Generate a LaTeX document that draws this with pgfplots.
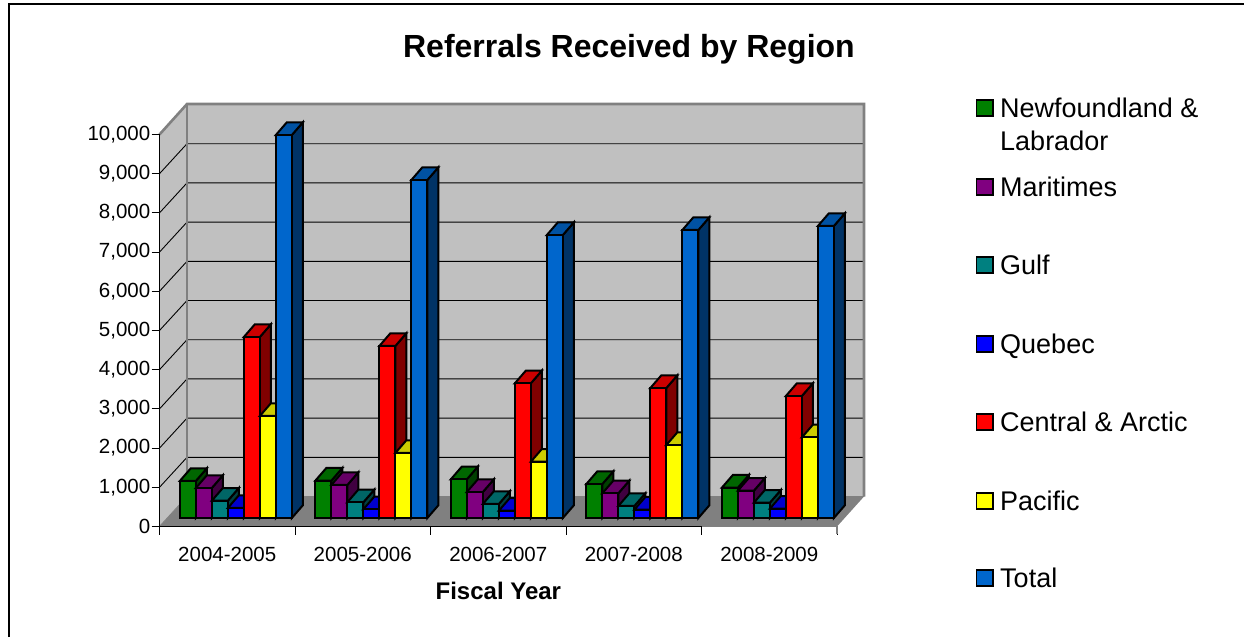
\documentclass[border=0pt]{standalone}
\usepackage{pgfplots}
\usepackage{pgfplotstable}
\usepackage{fontspec}
\setmainfont{Liberation Sans}
\pgfplotsset{compat=1.18}

% Referrals per fiscal year, one column per region
\pgfplotstableread{
year      nfl mar gulf que car  pac  tot
2004-2005 944 765 441  255 4617 2602 9770
2005-2006 952 842 400  222 4388 1658 8622
2006-2007 987 663 357  186 3436 1436 7219
2007-2008 867 630 306  212 3316 1862 7347
2008-2009 773 696 390  237 3112 2056 7449
}\referrals

\definecolor{cNfl}{HTML}{008000}
\definecolor{cMar}{HTML}{800080}
\definecolor{cGulf}{HTML}{008080}
\definecolor{cQue}{HTML}{0000FF}
\definecolor{cCar}{HTML}{FF0000}
\definecolor{cPac}{HTML}{FFFF00}
\definecolor{cTot}{HTML}{0066CC}
\definecolor{wall}{HTML}{C0C0C0}
\definecolor{floorgray}{HTML}{808080}

\pgfplotsset{barline/.style={draw=black,line width=2pt,line join=miter}}

% Bar geometry in axis units (one category = 1 on x, 1000 referrals = 1000 on y)
\def\barstart{0.150}
\def\barw{0.1181}
\def\depthx{0.0812}
\def\depthy{324}
\def\basey{217}

% #1 category index, #2 slot in the group, #3 value, #4 colour
\newcommand\threedbar[4]{%
  \pgfmathsetmacro\xa{#1+\barstart+#2*\barw}%
  \pgfmathsetmacro\xb{\xa+\barw}%
  \pgfmathsetmacro\xc{\xa+\depthx}%
  \pgfmathsetmacro\xd{\xb+\depthx}%
  \pgfmathsetmacro\ya{\basey}%
  \pgfmathsetmacro\yb{\basey+#3}%
  \pgfmathsetmacro\yc{\basey+\depthy}%
  \pgfmathsetmacro\yd{\yb+\depthy}%
  \edef\drawbar{%
    \noexpand\addplot[forget plot,barline,fill=#4!50!black] coordinates
      {(\xb,\ya) (\xd,\yc) (\xd,\yd) (\xb,\yb)} --cycle;
    \noexpand\addplot[forget plot,barline,fill=#4!80!black] coordinates
      {(\xa,\yb) (\xb,\yb) (\xd,\yd) (\xc,\yd)} --cycle;
    \noexpand\addplot[forget plot,barline,fill=#4] coordinates
      {(\xa,\ya) (\xb,\ya) (\xb,\yb) (\xa,\yb)} --cycle;
  }%
  \drawbar
}

\newcommand\legendrow[3]{%
  \draw[black,line width=1.6pt,fill=#2] (976.5,637-#1-8) rectangle (993,637-#1+8);
  \node[anchor=base west,inner sep=0pt,font=\fontsize{27}{32}\selectfont] at (1000,637-#1-10) {#3};
}

\begin{document}
\begin{tikzpicture}
\path[use as bounding box] (0,0) rectangle (1244pt,637pt);
\draw[black,line width=1.8pt] (9pt,0pt) -- (9pt,633pt) -- (1244pt,633pt);

\begin{axis}[
  at={(159.5pt,110.5pt)}, anchor=south west,
  scale only axis, width=704.5pt, height=422.5pt,
  xmin=0, xmax=5.199, ymin=0, ymax=10778,
  axis x line*=bottom, axis y line*=left,
  axis line style={draw=none,-},
  clip=false,
  tick align=outside,
  ytick={0,1000,...,10000},
  xtick={0.5,1.5,2.5,3.5,4.5},
  xticklabels={2004-2005,2005-2006,2006-2007,2007-2008,2008-2009},
  minor xtick={0,1,2,3,4,5},
  major x tick style={draw=none},
  minor x tick style={black,line width=0.9pt},
  y tick style={black,line width=0.9pt},
  major tick length=8pt, minor tick length=8pt,
  tick label style={font=\fontsize{20.5}{24}\selectfont},
  /pgf/number format/assume math mode=true,
  /pgf/number format/1000 sep={,},
  scaled y ticks=false,
  yticklabel style={inner sep=1pt},
  xticklabel style={inner sep=0pt,yshift=-12pt},
  title={Referrals Received by Region},
  title style={at={(axis description cs:0.6664,1.116)},anchor=center,
    font=\fontsize{32}{38}\bfseries\selectfont},
  xlabel={Fiscal Year},
  xlabel style={at={(axis description cs:0.481,-0.1527)},anchor=center,
    font=\fontsize{24}{28}\bfseries\selectfont},
]
% floor and walls of the chart box
\addplot[forget plot,draw=none,fill=floorgray] coordinates {(0,0) (5,0) (5.199,765) (0.203,765) (0,0)};
\addplot[forget plot,draw=none,fill=wall] coordinates {(0,0) (0.203,765) (0.203,10778) (0,10000) (0,0)};
\addplot[forget plot,draw=none,fill=wall] coordinates {(0.203,765) (5.199,765) (5.199,10778) (0.203,10778) (0.203,765)};
% gridlines running along the side wall and the back wall
\pgfplotsinvokeforeach{1000,2000,...,9000}{
  \pgfmathsetmacro\gy{#1+765}
  \edef\gridpath{\noexpand\addplot[forget plot,black,line width=0.9pt] coordinates {(0,#1) (0.203,\gy) (5.199,\gy)};}
  \gridpath
}
\addplot[forget plot,floorgray,line width=0.9pt] coordinates {(0,0) (0.203,765) (5.199,765)};
\addplot[forget plot,floorgray,line width=2.6pt] coordinates {(0,10000) (0.203,10778) (5.199,10778) (5.199,765)};
\addplot[forget plot,floorgray,line width=2.6pt] coordinates {(0.203,765) (0.203,10778)};
\addplot[forget plot,black,line width=1.1pt] coordinates {(0,0) (0,10000)};
\addplot[forget plot,black,line width=1.1pt] coordinates {(0,0) (4,0)};
\addplot[forget plot,floorgray,line width=1.1pt] coordinates {(4,0) (5,0) (5,-204)};

% the bars, left to right so each front face hides its neighbour's side
\foreach \row in {0,...,4}{
  \foreach \col/\slot/\colr in {nfl/0/cNfl,mar/1/cMar,gulf/2/cGulf,que/3/cQue,car/4/cCar,pac/5/cPac,tot/6/cTot}{
    \pgfplotstablegetelem{\row}{\col}\of\referrals
    \edef\val{\pgfplotsretval}
    \threedbar{\row}{\slot}{\val}{\colr}
  }
}
\end{axis}

% legend
\begin{scope}[x=1pt,y=1pt]
\legendrow{108}{cNfl}{Newfoundland \&}
\node[anchor=base west,inner sep=0pt,font=\fontsize{27}{32}\selectfont] at (1000,637-151) {Labrador};
\legendrow{187}{cMar}{Maritimes}
\legendrow{265}{cGulf}{Gulf}
\legendrow{344}{cQue}{Quebec}
\legendrow{422}{cCar}{Central \& Arctic}
\legendrow{501}{cPac}{Pacific}
\legendrow{578}{cTot}{Total}
\end{scope}
\end{tikzpicture}
\end{document}
